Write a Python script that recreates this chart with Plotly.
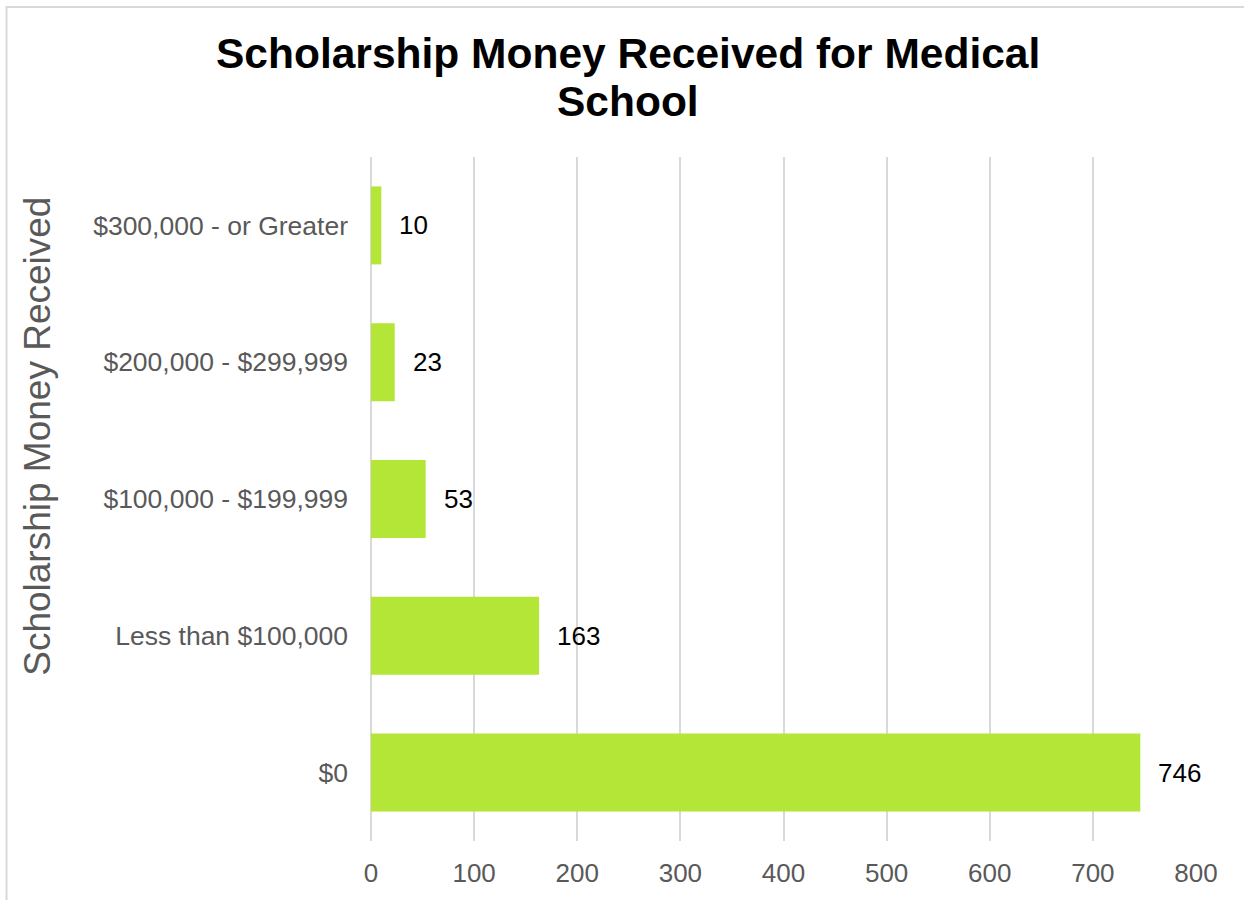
import plotly.graph_objects as go

# Scholarship amount bands (bottom to top) and respondent counts
categories = ["$0", "Less than $100,000", "$100,000 - $199,999",
              "$200,000 - $299,999", "$300,000 - or Greater"]
counts = [746, 163, 53, 23, 10]
x_ticks = [0, 100, 200, 300, 400, 500, 600, 700, 800]

BAR_COLOR = "#b3e637"
GRID_COLOR = "#d9d9d9"
AXIS_TEXT = "#595959"
FONT = "Liberation Sans, Arial, sans-serif"

fig = go.Figure(
    go.Bar(
        x=counts,
        y=categories,
        orientation="h",
        marker=dict(color=BAR_COLOR, line=dict(width=0)),
        hoverinfo="x+y",
    )
)

# value labels placed just past the end of each bar
for cat, val in zip(categories, counts):
    fig.add_annotation(
        x=val, y=cat, xref="x", yref="y",
        text=str(val), showarrow=False,
        xanchor="left", xshift=16,
        font=dict(family=FONT, size=26, color="#000000"),
    )

# two-line chart title
fig.add_annotation(
    x=0.311, y=1.1516, xref="paper", yref="paper",
    text="<b>Scholarship Money Received for Medical</b>",
    showarrow=False, xanchor="center", yanchor="middle",
    font=dict(family=FONT, size=42.5, color="#000000"),
)
fig.add_annotation(
    x=0.311, y=1.0816, xref="paper", yref="paper",
    text="<b>School</b>",
    showarrow=False, xanchor="center", yanchor="middle",
    font=dict(family=FONT, size=42.5, color="#000000"),
)

# vertical axis title
fig.add_annotation(
    x=-0.4036, y=0.591, xref="paper", yref="paper",
    text="Scholarship Money Received",
    showarrow=False, textangle=-90,
    xanchor="center", yanchor="middle",
    font=dict(family=FONT, size=37, color=AXIS_TEXT),
)

# outer chart border
fig.add_shape(
    type="rect", xref="paper", yref="paper",
    x0=-0.4418, x1=1.2, y0=-0.3, y1=1.2194,
    line=dict(color=GRID_COLOR, width=2), fillcolor="rgba(0,0,0,0)",
    layer="below",
)

fig.update_layout(
    width=1244, height=900,
    margin=dict(l=371, r=48, t=157, b=57),
    paper_bgcolor="white", plot_bgcolor="white",
    showlegend=False,
    bargap=0.43,
    font=dict(family=FONT, size=26, color=AXIS_TEXT),
    xaxis=dict(
        range=[0, 800],
        tickvals=x_ticks,
        showgrid=True, gridcolor=GRID_COLOR, gridwidth=2,
        zeroline=True, zerolinecolor=GRID_COLOR, zerolinewidth=2,
        showline=False, ticks="",
        ticklabelstandoff=14,
        tickfont=dict(family=FONT, size=26, color=AXIS_TEXT),
        fixedrange=True,
    ),
    yaxis=dict(
        categoryorder="array", categoryarray=categories,
        showgrid=False, zeroline=False, showline=False, ticks="",
        ticklabelstandoff=22,
        tickfont=dict(family=FONT, size=26.5, color=AXIS_TEXT),
        fixedrange=True,
    ),
)

fig.write_html("out.html")
